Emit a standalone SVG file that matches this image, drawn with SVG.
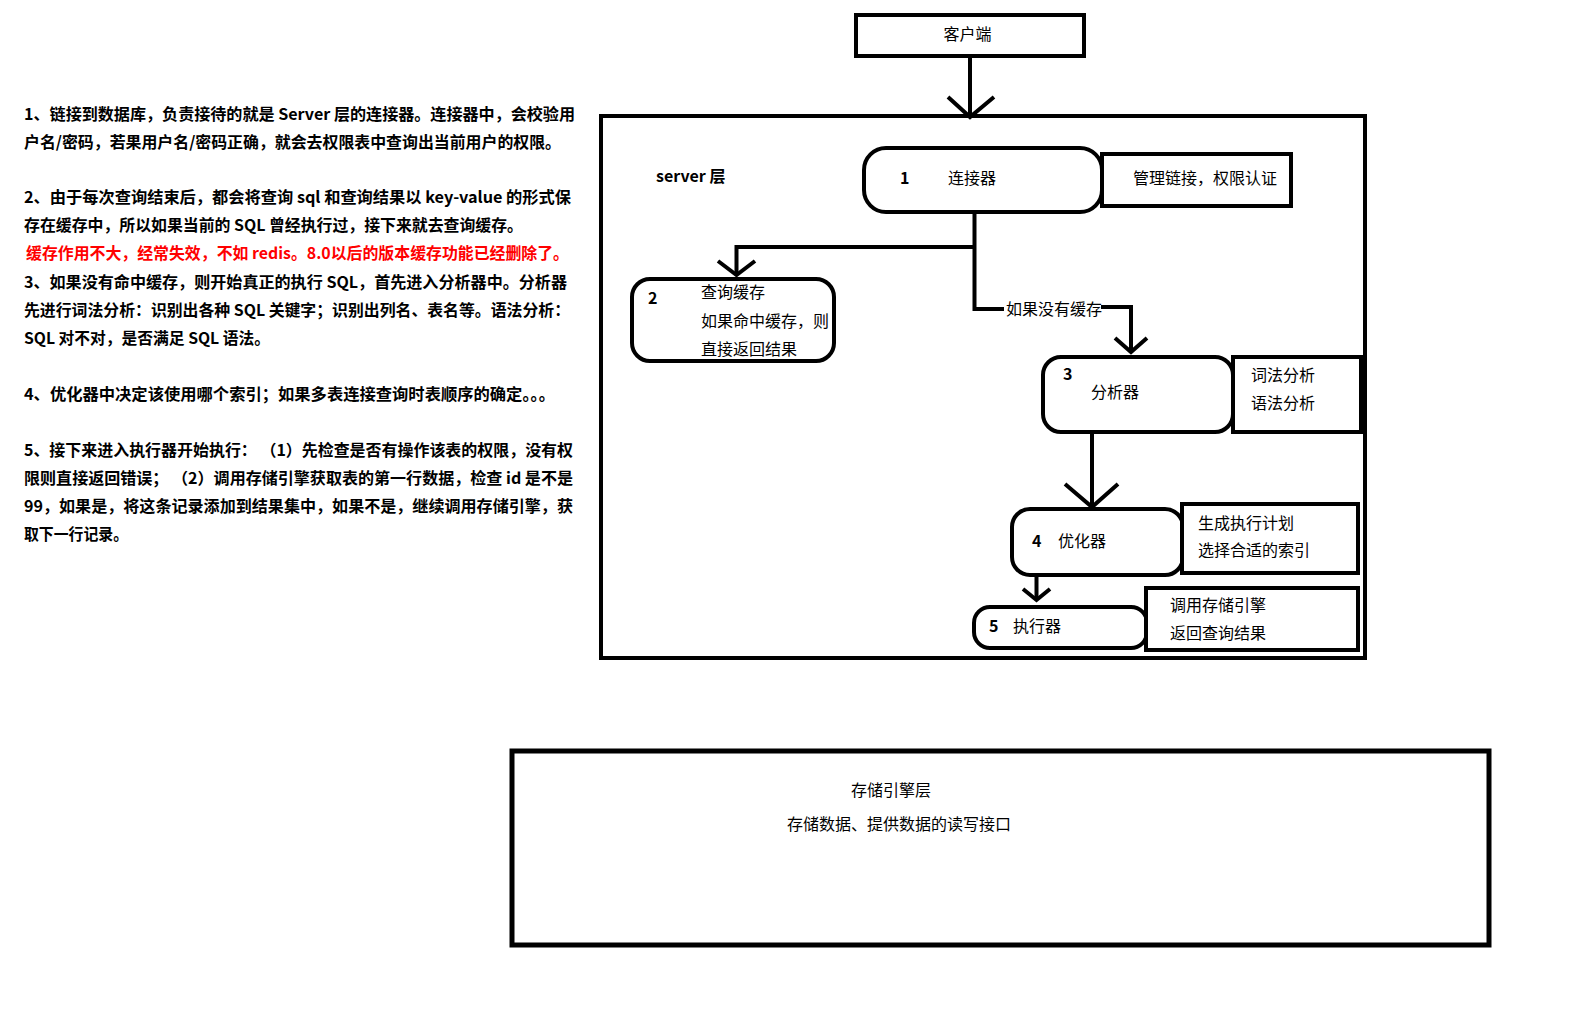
<svg xmlns="http://www.w3.org/2000/svg" width="1580" height="1020" viewBox="0 0 1580 1020">
<style>
.t{font-family:"Noto Sans CJK SC","Noto Sans",sans-serif;font-size:16px;fill:#000}
.b{font-weight:bold}
.red{fill:#f00}
.box{fill:#fff;stroke:#000;stroke-width:4}
.ln{fill:none;stroke:#000;stroke-width:4;stroke-linejoin:miter}
</style>
<rect width="1580" height="1020" fill="#fff"/>
<g id="notes" class="t b">
<text x="24" y="120" textLength="551" lengthAdjust="spacingAndGlyphs">1、链接到数据库，负责接待的就是 Server 层的连接器。连接器中，会校验用</text>
<text x="24" y="148" textLength="537" lengthAdjust="spacingAndGlyphs">户名/密码，若果用户名/密码正确，就会去权限表中查询出当前用户的权限。</text>
<text x="24" y="203" textLength="547" lengthAdjust="spacingAndGlyphs">2、由于每次查询结束后，都会将查询 sql 和查询结果以 key-value 的形式保</text>
<text x="24" y="231" textLength="499" lengthAdjust="spacingAndGlyphs">存在缓存中，所以如果当前的 SQL 曾经执行过，接下来就去查询缓存。</text>
<text x="26" y="259" class="red" textLength="543" lengthAdjust="spacingAndGlyphs">缓存作用不大，经常失效，不如 redis。8.0以后的版本缓存功能已经删除了。</text>
<text x="24" y="288" textLength="543" lengthAdjust="spacingAndGlyphs">3、如果没有命中缓存，则开始真正的执行 SQL，首先进入分析器中。分析器</text>
<text x="24" y="316" textLength="546" lengthAdjust="spacingAndGlyphs">先进行词法分析：识别出各种 SQL 关键字；识别出列名、表名等。语法分析：</text>
<text x="24" y="344" textLength="246" lengthAdjust="spacingAndGlyphs">SQL 对不对，是否满足 SQL 语法。</text>
<text x="24" y="400" textLength="531" lengthAdjust="spacingAndGlyphs">4、优化器中决定该使用哪个索引；如果多表连接查询时表顺序的确定。。。</text>
<text x="24" y="456" textLength="549" lengthAdjust="spacingAndGlyphs">5、接下来进入执行器开始执行： （1）先检查是否有操作该表的权限，没有权</text>
<text x="24" y="484" textLength="549" lengthAdjust="spacingAndGlyphs">限则直接返回错误； （2）调用存储引擎获取表的第一行数据，检查 id 是不是</text>
<text x="24" y="512" textLength="549" lengthAdjust="spacingAndGlyphs">99，如果是，将这条记录添加到结果集中，如果不是，继续调用存储引擎，获</text>
<text x="24" y="540" textLength="104" lengthAdjust="spacingAndGlyphs">取下一行记录。</text>
</g>
<g id="server-layer">
<rect class="box" x="601" y="116" width="764" height="542"/>
<text class="t b" x="656" y="182">server 层</text>
</g>
<g id="client">
<rect class="box" x="856" y="15" width="228" height="41"/>
<text class="t" x="967.5" y="40" text-anchor="middle">客户端</text>
</g>
<g id="connectors">
<path class="ln" d="M970 57V117"/>
<polyline class="ln" points="948,97 970,117 994,97"/>
<path class="ln" d="M974.5 212V309H1004"/>
<path class="ln" d="M974.5 247H736.5V275"/>
<polyline class="ln" points="718,261 736.5,275 755,261"/>
<path class="ln" d="M1101 307H1131V352"/>
<polyline class="ln" points="1115,338 1131,352 1147,338"/>
<text class="t" x="1006" y="315">如果没有缓存</text>
<path class="ln" d="M1092 432V507"/>
<polyline class="ln" points="1065,484 1092,507 1118,484"/>
<path class="ln" d="M1036.5 575V600"/>
<polyline class="ln" points="1023,589 1036.5,600 1050,589"/>
</g>
<g id="node-connector">
<rect class="box" x="864" y="148" width="238" height="64" rx="22"/>
<text class="t b" x="900" y="184">1</text>
<text class="t" x="948" y="184">连接器</text>
</g>
<g id="note-connector">
<rect class="box" x="1102" y="154" width="189" height="52"/>
<text class="t" x="1133" y="184">管理链接，权限认证</text>
</g>
<g id="node-cache">
<rect class="box" x="632" y="279" width="202" height="82" rx="18"/>
<text class="t b" x="648" y="304">2</text>
<text class="t" x="701" y="298">查询缓存</text>
<text class="t" x="701" y="327">如果命中缓存，则</text>
<text class="t" x="701" y="355">直接返回结果</text>
</g>
<g id="node-analyzer">
<rect class="box" x="1043" y="357" width="190" height="75" rx="18"/>
<text class="t b" x="1063" y="380">3</text>
<text class="t" x="1091" y="398">分析器</text>
</g>
<g id="note-analyzer">
<rect class="box" x="1233" y="357" width="128" height="75"/>
<text class="t" x="1251" y="381">词法分析</text>
<text class="t" x="1251" y="409">语法分析</text>
</g>
<g id="node-optimizer">
<rect class="box" x="1012" y="509" width="171" height="66" rx="18"/>
<text class="t b" x="1032" y="547">4</text>
<text class="t" x="1058" y="547">优化器</text>
</g>
<g id="note-optimizer">
<rect class="box" x="1182" y="504" width="176" height="69"/>
<text class="t" x="1198" y="529">生成执行计划</text>
<text class="t" x="1198" y="556">选择合适的索引</text>
</g>
<g id="node-executor">
<rect class="box" x="974" y="607" width="173" height="41" rx="16"/>
<text class="t b" x="989" y="632">5</text>
<text class="t" x="1013" y="632">执行器</text>
</g>
<g id="note-executor">
<rect class="box" x="1146" y="588" width="212" height="62"/>
<text class="t" x="1170" y="611">调用存储引擎</text>
<text class="t" x="1170" y="639">返回查询结果</text>
</g>
<g id="storage-layer">
<rect class="box" style="stroke-width:5" x="512" y="751" width="977" height="194"/>
<text class="t" x="891" y="796" text-anchor="middle">存储引擎层</text>
<text class="t" x="899" y="830" text-anchor="middle">存储数据、提供数据的读写接口</text>
</g>
</svg>
